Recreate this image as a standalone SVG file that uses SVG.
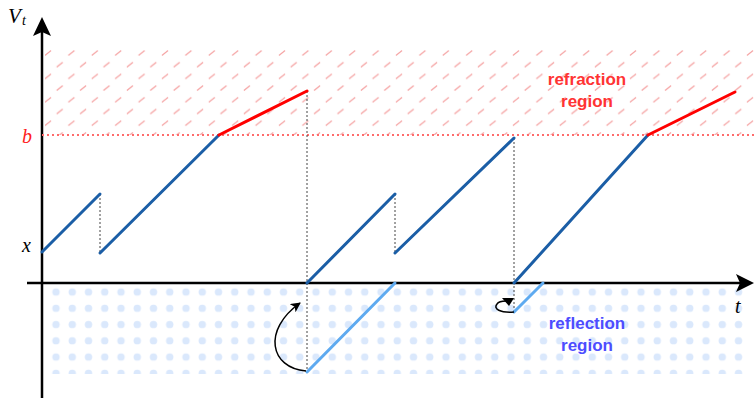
<svg xmlns="http://www.w3.org/2000/svg" width="755" height="405" viewBox="0 0 755 405">
<style>
.ser{font-family:"Liberation Serif","Times New Roman",serif;font-style:italic;}
.lbl{font-family:"Liberation Sans",Arial,sans-serif;font-weight:bold;font-size:17px;text-anchor:middle;}
.blue{stroke:#1b5ea6;stroke-width:3;fill:none;stroke-linecap:round;}
.lblue{stroke:#5eaaf0;stroke-width:3;fill:none;stroke-linecap:round;}
.red{stroke:#ff0000;stroke-width:3;fill:none;stroke-linecap:round;}
.guide{stroke:#444;stroke-width:1;stroke-dasharray:2 2;fill:none;}
.axis{stroke:#000;stroke-width:2.5;fill:none;}
</style>
<defs>
<pattern id="hatch" patternUnits="userSpaceOnUse" x="48" y="53" width="23.4" height="23.4">
<path d="M-3,2.5 L3,-2.5 M20.4,2.5 L26.4,-2.5 M-3,25.9 L3,20.9 M20.4,25.9 L26.4,20.9 M8.7,14.2 L14.7,9.2" stroke="#f5a3a3" stroke-width="1.3" fill="none"/>
</pattern>
<pattern id="dots" patternUnits="userSpaceOnUse" x="47.875" y="283.875" width="16.25" height="16.25">
<circle cx="8.125" cy="8.125" r="3.7" fill="#dae8fc"/>
</pattern>
<marker id="arr" viewBox="0 0 10 10" refX="9" refY="5" markerWidth="10" markerHeight="10" markerUnits="userSpaceOnUse" orient="auto">
<path d="M0,0 L10,5 L0,10 L2.5,5 Z" fill="#000"/>
</marker>
</defs>
<g id="regions">
<rect x="45" y="47" width="710" height="88" fill="url(#hatch)"/>
<rect x="46" y="285" width="702" height="89" fill="url(#dots)"/>
</g>
<g id="axes">
<line class="axis" x1="42" y1="398" x2="42" y2="30"/>
<path d="M42,17 L51,36 L42,32 L33,36 Z" fill="#000"/>
<line class="axis" x1="27" y1="283" x2="742" y2="283"/>
<path d="M754,283 L736,292 L740,283 L736,274 Z" fill="#000"/>
<line x1="42" y1="135" x2="755" y2="135" stroke="#ff6b6b" stroke-width="2" stroke-dasharray="2 3"/>
</g>
<g id="connectors">
<line class="guide" x1="100" y1="194" x2="100" y2="253"/>
<line class="guide" x1="307" y1="91" x2="307" y2="372"/>
<line class="guide" x1="395" y1="194" x2="395" y2="253"/>
<line class="guide" x1="514" y1="138" x2="514" y2="312"/>
<polyline class="blue" points="42,252 100,194"/>
<polyline class="blue" points="100,253 219,135"/>
<polyline class="red" points="219,135 307,91"/>
<polyline class="blue" points="307,283 395,194"/>
<polyline class="blue" points="395,253 514,138"/>
<polyline class="blue" points="514,283 648,135"/>
<polyline class="red" points="648,135 735,92"/>
<polyline class="lblue" points="307,372 395,283"/>
<polyline class="lblue" points="514,312 543,283"/>
<path d="M306,371 C270,368 262,330 300,303" stroke="#000" stroke-width="1.5" fill="none" marker-end="url(#arr)"/>
<path d="M514,312 C500,313 493,309 497,304 C499,301 503,301 506,301" stroke="#000" stroke-width="1.5" fill="none"/>
<path d="M502,298 L514,298 L509,306 Z" fill="#000"/>
</g>
<g id="labels">
<text class="ser" x="8" y="23" font-size="21">V</text>
<text class="ser" x="22" y="25" font-size="14">t</text>
<text class="ser" x="22" y="143" font-size="20" fill="#ff2020">b</text>
<text class="ser" x="22" y="252" font-size="20">x</text>
<text class="ser" x="735" y="313" font-size="20">t</text>
<text class="lbl" x="587" y="85" fill="#ff3333">refraction</text>
<text class="lbl" x="587" y="107" fill="#ff3333">region</text>
<text class="lbl" x="587" y="329" fill="#4d4dff">reflection</text>
<text class="lbl" x="587" y="351" fill="#4d4dff">region</text>
</g>
</svg>
